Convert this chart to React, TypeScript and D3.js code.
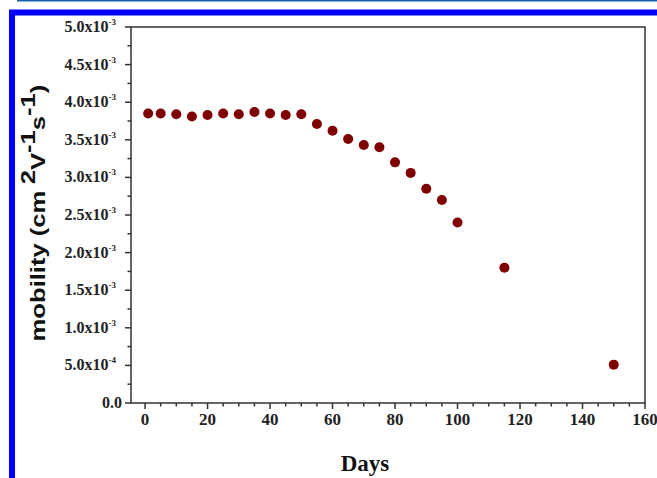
import React from "react";
import * as d3 from "d3";

const days = [1, 5, 10, 15, 20, 25, 30, 35, 40, 45, 50, 55, 60, 65, 70, 75, 80, 85, 90, 95, 100, 115, 150];
const mobility = [
  3.85e-3, 3.85e-3, 3.84e-3, 3.81e-3, 3.83e-3, 3.85e-3, 3.84e-3, 3.87e-3, 3.85e-3, 3.83e-3, 3.84e-3,
  3.71e-3, 3.62e-3, 3.51e-3, 3.43e-3, 3.4e-3, 3.2e-3, 3.06e-3, 2.85e-3, 2.7e-3, 2.4e-3, 1.8e-3, 0.51e-3,
];
const xTicks = [0, 20, 40, 60, 80, 100, 120, 140, 160];
const yTicks = [0, 5e-4, 1e-3, 1.5e-3, 2e-3, 2.5e-3, 3e-3, 3.5e-3, 4e-3, 4.5e-3, 5e-3];
const xTitle = "Days";

const W = 657;
const H = 478;
const left = 131, right = 645, top = 27, bottom = 403;

function fmt(v: number): [string, string | null] {
  if (v === 0) return ["0.0", null];
  const e = Math.floor(Math.log10(v) + 1e-9);
  const m = v / Math.pow(10, e);
  return [m.toFixed(1) + "x10", String(e)];
}

export default function App() {
  const x = d3.scaleLinear().domain([-4.5, 160]).range([left, right]);
  const y = d3.scaleLinear().domain([0, 5e-3]).range([bottom, top]);
  const xMinor = d3.range(5, 160, 5).filter((d) => d % 20 !== 0);
  const yMinor = d3.range(0.25e-3, 5e-3, 0.5e-3);
  const axisColor = "#333";
  const serif = "'Liberation Serif', 'Times New Roman', serif";
  const sans = "'Liberation Sans', Arial, sans-serif";
  return (
    <svg width={W} height={H} style={{ position: "absolute", left: 0, top: 0, background: "#fff" }}>
      <line x1={17} x2={W} y1={0.75} y2={0.75} stroke="#1460a8" strokeWidth={1.5} />
      <rect x={12} y={12.5} width={W + 20} height={H + 20} fill="none" stroke="#0000ff" strokeWidth={6} />
      <rect x={left} y={top} width={right - left} height={bottom - top} fill="none" stroke={axisColor} strokeWidth={1.5} />
      {xTicks.map((t) => (
        <g key={"xt" + t}>
          <line x1={x(t)} x2={x(t)} y1={bottom} y2={bottom + 6} stroke={axisColor} strokeWidth={1.5} />
          <text x={x(t)} y={425} textAnchor="middle" fontFamily={serif} fontWeight="bold" fontSize={17} fill="#222">
            {t}
          </text>
        </g>
      ))}
      {xMinor.map((t) => (
        <line key={"xm" + t} x1={x(t)} x2={x(t)} y1={bottom} y2={bottom + 3.5} stroke={axisColor} strokeWidth={1.5} />
      ))}
      {yTicks.map((t) => {
        const [base, exp] = fmt(t);
        return (
          <g key={"yt" + t}>
            <line x1={left - 6} x2={left} y1={y(t)} y2={y(t)} stroke={axisColor} strokeWidth={1.5} />
            <text x={exp ? 116 : 122} y={y(t) + 5} textAnchor="end" fontFamily={serif} fontWeight="bold" fontSize={16} fill="#222">
              {base}
              {exp && (
                <tspan fontSize={9} dy={-7}>
                  {exp}
                </tspan>
              )}
            </text>
          </g>
        );
      })}
      {yMinor.map((t) => (
        <line key={"ym" + t} x1={left - 3.5} x2={left} y1={y(t)} y2={y(t)} stroke={axisColor} strokeWidth={1.5} />
      ))}
      {days.map((d, i) => (
        <circle key={"p" + i} cx={x(d)} cy={y(mobility[i])} r={5} fill="#7f0000" />
      ))}
      <text x={365} y={471} textAnchor="middle" fontFamily={serif} fontWeight="bold" fontSize={23} fill="#111">
        {xTitle}
      </text>
      <text transform="translate(45,213) rotate(-90) scale(1.28,1)" textAnchor="middle" fontFamily={sans} fontWeight="bold" fontSize={20} fill="#111">
        mobility (cm
        <tspan dx={5} dy={-10}>2</tspan>
        <tspan dy={10}>V</tspan>
        <tspan dy={-10}>-1</tspan>
        <tspan dy={10}>s</tspan>
        <tspan dy={-10}>-1</tspan>
        <tspan dy={10}>)</tspan>
      </text>
    </svg>
  );
}
